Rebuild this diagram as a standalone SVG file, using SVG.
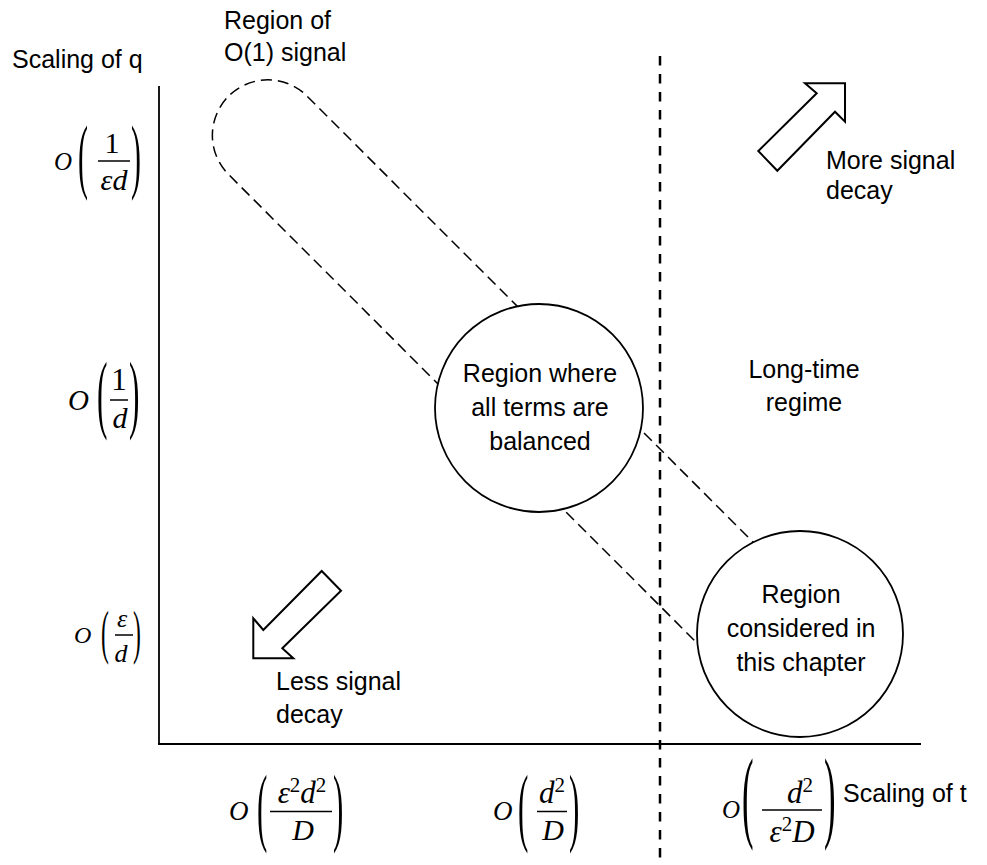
<svg xmlns="http://www.w3.org/2000/svg" width="987" height="865" viewBox="0 0 987 865">
<defs>
<style>
.t{font-family:"Liberation Sans",Arial,sans-serif;font-size:25px;fill:#000}
.m{font-family:"Liberation Serif","Times New Roman",serif;fill:#000}
.i{font-style:italic}
.c{text-anchor:middle}
.ax{stroke:#000;stroke-width:1.8;fill:none}
.bar{stroke:#000;stroke-width:1.5}
.dash{stroke:#000;stroke-width:1.5;fill:none;stroke-dasharray:11 6}
.vdash{stroke:#000;stroke-width:2.5;stroke-dasharray:9.5 8.5}
.node{fill:#fff;stroke:#000;stroke-width:1.8}
.arrow{fill:#fff;stroke:#000;stroke-width:2;stroke-linejoin:miter}
</style>
</defs>
<rect width="987" height="865" fill="#fff"/>

<g id="axes">
<line class="ax" x1="159" y1="86" x2="159" y2="744"/>
<line class="ax" x1="158" y1="744" x2="921" y2="744"/>
<text class="t" x="12" y="68">Scaling of q</text>
<text class="t" x="843" y="802">Scaling of t</text>
</g>

<g id="boundary">
<line class="vdash" x1="660" y1="56" x2="660" y2="865"/>
</g>

<g id="connectors">
<path class="dash" d="M 760 549 L 305.2 94.3 A 55.5 55.5 0 0 0 226.8 172.7 L 703 649"/>
</g>

<g id="region-o1-label">
<text class="t" x="224" y="29">Region of</text>
<text class="t" x="224" y="61">O(1) signal</text>
</g>

<g id="node-balanced">
<circle class="node" cx="539" cy="408" r="104"/>
<text class="t c" x="540" y="382">Region where</text>
<text class="t c" x="540" y="416">all terms are</text>
<text class="t c" x="540" y="450">balanced</text>
</g>

<g id="node-chapter">
<circle class="node" cx="800" cy="634" r="103"/>
<text class="t c" x="801" y="603">Region</text>
<text class="t c" x="801" y="637">considered in</text>
<text class="t c" x="801" y="671">this chapter</text>
</g>

<g id="long-time">
<text class="t c" x="804" y="378">Long-time</text>
<text class="t c" x="804" y="411">regime</text>
</g>

<g id="arrow-more">
<polygon class="arrow" points="845,83.3 845,121.7 835,111.7 777.3,170.7 758.3,151 816.7,93.3 805,83.3"/>
<text class="t" x="826" y="169">More signal</text>
<text class="t" x="826" y="199">decay</text>
</g>

<g id="arrow-less">
<polygon class="arrow" points="253.3,658.3 253.3,618.3 263.3,630 321.7,571 341,590.7 282.3,648.3 293.3,658.3"/>
<text class="t" x="276" y="690">Less signal</text>
<text class="t" x="276" y="723">decay</text>
</g>

<!-- y-axis labels -->
<g id="q-label-1">
<text class="m i" x="54" y="170" font-size="25">O</text>
<text class="m" transform="translate(78,183) scale(0.36,1)" font-size="83">(</text>
<text class="m c" x="112" y="153" font-size="30">1</text>
<line class="bar" x1="98" y1="161" x2="130" y2="161"/>
<text class="m i c" x="114" y="190" font-size="30">εd</text>
<text class="m" transform="translate(131,183) scale(0.36,1)" font-size="83">)</text>
</g>

<g id="q-label-2">
<text class="m i" x="68" y="410" font-size="29">O</text>
<text class="m" transform="translate(97,422) scale(0.36,1)" font-size="87">(</text>
<text class="m c" x="119" y="390" font-size="31">1</text>
<line class="bar" x1="110" y1="400" x2="128" y2="400"/>
<text class="m i c" x="120" y="428" font-size="30">d</text>
<text class="m" transform="translate(129,422) scale(0.36,1)" font-size="87">)</text>
</g>

<g id="q-label-3">
<text class="m i" x="74" y="643" font-size="24">O</text>
<text class="m" transform="translate(101,652) scale(0.4,1)" font-size="59">(</text>
<text class="m i c" x="122" y="627" font-size="26">ε</text>
<line class="bar" x1="115" y1="635" x2="133" y2="635"/>
<text class="m i c" x="121" y="662" font-size="26">d</text>
<text class="m" transform="translate(133,652) scale(0.4,1)" font-size="59">)</text>
</g>

<!-- t-axis labels -->
<g id="t-label-1">
<text class="m i" x="229" y="820" font-size="27">O</text>
<text class="m" transform="translate(257,835) scale(0.36,1)" font-size="86">(</text>
<text class="m c" x="302" y="803" font-size="31"><tspan class="i">ε</tspan><tspan font-size="21" dy="-11">2</tspan><tspan class="i" dy="11">d</tspan><tspan font-size="21" dy="-11">2</tspan></text>
<line class="bar" x1="270" y1="811.5" x2="332" y2="811.5"/>
<text class="m i c" x="303" y="840" font-size="30">D</text>
<text class="m" transform="translate(333,835) scale(0.36,1)" font-size="86">)</text>
</g>

<g id="t-label-2">
<text class="m i" x="493" y="820" font-size="27">O</text>
<text class="m" transform="translate(518,835) scale(0.36,1)" font-size="86">(</text>
<text class="m c" x="552" y="803" font-size="31"><tspan class="i">d</tspan><tspan font-size="21" dy="-11">2</tspan></text>
<line class="bar" x1="537" y1="811.5" x2="567" y2="811.5"/>
<text class="m i c" x="553" y="840" font-size="30">D</text>
<text class="m" transform="translate(569,835) scale(0.36,1)" font-size="86">)</text>
</g>

<g id="t-label-3">
<text class="m i" x="722" y="818" font-size="25">O</text>
<text class="m" transform="translate(742,829) scale(0.34,1)" font-size="102">(</text>
<text class="m c" x="800" y="803" font-size="31"><tspan class="i">d</tspan><tspan font-size="21" dy="-11">2</tspan></text>
<line class="bar" x1="762" y1="810" x2="822" y2="810"/>
<text class="m c" x="792" y="842" font-size="31"><tspan class="i">ε</tspan><tspan font-size="21" dy="-11">2</tspan><tspan class="i" dy="11">D</tspan></text>
<text class="m" transform="translate(824,829) scale(0.34,1)" font-size="102">)</text>
</g>
</svg>
